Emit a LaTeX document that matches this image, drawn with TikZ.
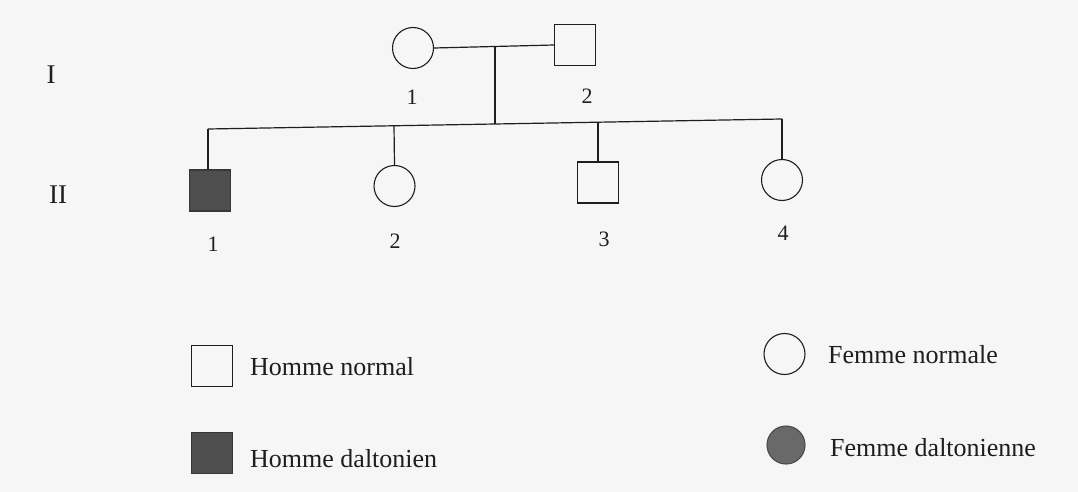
\documentclass[tikz,border=0pt]{standalone}
\usepackage{fontspec}
\setmainfont{Liberation Serif}
\definecolor{paper}{RGB}{246,246,246}
\definecolor{ink}{RGB}{30,30,30}
\definecolor{affsq}{RGB}{78,78,78}
\definecolor{affci}{RGB}{105,105,105}
\begin{document}
\begin{tikzpicture}[x=1pt,y=-1pt,
  ln/.style={draw=ink,line width=1.2pt},
  male/.style={rectangle,draw=ink,line width=1.1pt,minimum size=41pt,inner sep=0pt},
  female/.style={circle,draw=ink,line width=1.1pt,minimum size=41pt,inner sep=0pt},
  affm/.style={male,fill=affsq,draw=affsq!70!black},
  afff/.style={female,fill=affci,draw=affci!70!black},
  num/.style={font=\fontsize{22}{24}\selectfont,text=ink,inner sep=0pt},
  gen/.style={font=\fontsize{27}{29}\selectfont,text=ink,inner sep=0pt},
  leg/.style={font=\fontsize{26}{28}\selectfont,text=ink,anchor=west,inner sep=0pt}]
\fill[paper] (0,0) rectangle (1078,492);
\useasboundingbox (0,0) rectangle (1078,492);
% generation labels
\node[gen] (g1) at (51,75) {I};
\node[gen] (g2) at (58,195) {II};
% generation I
\node[female] (p1) at (413,48) {};
\node[male] (p2) at (575,45) {};
\node[num] (n11) at (412,97) {1};
\node[num] (n12) at (587,96) {2};
\coordinate (m) at (495,46.3);
\draw[ln] (p1.east) -- (p2.west);
% sibship
\coordinate (sl) at (208,129);
\coordinate (sr) at (782,119);
\coordinate (sd) at (495,124);
\coordinate (s1) at (208,129);
\coordinate (s2) at (394,125.8);
\coordinate (s3) at (598,122.2);
\coordinate (s4) at (782,119);
\draw[ln] (m) -- (sd);
\draw[ln] (sl) -- (sr);
% generation II
\node[affm] (c1) at (210,190.5) {};
\node[female] (c2) at (394.5,186) {};
\node[male] (c3) at (598,182.5) {};
\node[female] (c4) at (782,180) {};
\draw[ln] (s1) -- (s1 |- c1.north);
\draw[ln] (s2) -- (c2.north);
\draw[ln] (s3) -- (c3.north);
\draw[ln] (s4) -- (c4.north);
\node[num] (n21) at (213,244) {1};
\node[num] (n22) at (395,241) {2};
\node[num] (n23) at (604,239) {3};
\node[num] (n24) at (783,233) {4};
% legend
\node[male] (l1) at (212,366) {};
\node[leg] (t1) at (250,367) {Homme normal};
\node[affm] (l2) at (212,453) {};
\node[leg] (t2) at (250,459) {Homme daltonien};
\node[female] (l3) at (784.5,354) {};
\node[leg] (t3) at (828,355) {Femme normale};
\node[afff,minimum size=38pt] (l4) at (786,445) {};
\node[leg] (t4) at (830,448) {Femme daltonienne};
\end{tikzpicture}
\end{document}
